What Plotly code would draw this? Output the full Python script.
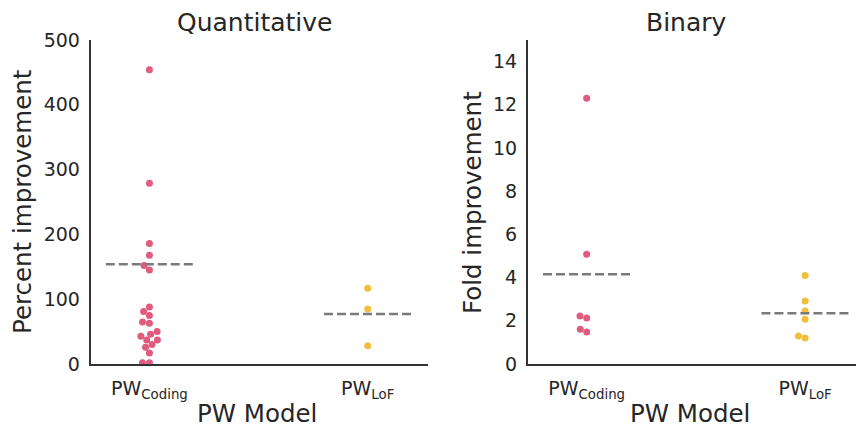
import numpy as np
import plotly.graph_objects as go

# ---------------- data ----------------
categories = ["PW<sub>Coding</sub>", "PW<sub>LoF</sub>"]
panel_titles = ["Quantitative", "Binary"]
y_titles = ["Percent improvement", "Fold improvement"]
x_title = "PW Model"

quant_coding = [454, 279, 186, 168, 152, 145, 88, 81, 75, 65, 63, 50, 46, 43, 37, 37, 30, 26, 17, 2, 2]
quant_lof = [117, 85, 28]
binary_coding = [12.3, 5.08, 2.22, 2.13, 1.61, 1.48]
binary_lof = [4.1, 2.92, 2.45, 2.07, 1.3, 1.2]

quant_means = [154, 77]
binary_means = [4.15, 2.35]

quant_yticks = [0, 100, 200, 300, 400, 500]
binary_yticks = [0, 2, 4, 6, 8, 10, 12, 14]

colors = ["#e05c7e", "#f1bf3b"]

# ---------------- layout geometry ----------------
W, H = 856, 429
mt, mb = 40, 65
plot_h = H - mt - mb
x1_dom = [90.5 / W, 427.7 / W]
x2_dom = [527.7 / W, 1.0]
x1_rng = [-0.27, 1.275]
x2_rng = [-0.27, 1.233]
y1_rng = [0, 500]
y2_rng = [0, 15]
MS = 7  # marker diameter px


def swarm_offsets(vals, y_ppu, x_ppu, d=MS):
    vals = np.asarray(vals, float)
    order = np.argsort(vals, kind="stable")
    placed = []
    offs = np.zeros(len(vals))
    for i in order:
        y = vals[i] * y_ppu
        cands = [0.0]
        for px, py in placed:
            dy = y - py
            if abs(dy) < d:
                dx = np.sqrt(d * d - dy * dy)
                cands += [px - dx, px + dx]
        cands = sorted(cands, key=lambda c: (round(abs(c), 6), c))
        chosen = cands[-1]
        for c in cands:
            if all((c - px) ** 2 + (y - py) ** 2 >= d * d - 1e-6 for px, py in placed):
                chosen = c
                break
        placed.append((chosen, y))
        offs[i] = chosen / x_ppu
    return offs


fig = go.Figure()

panels = [
    (quant_coding, quant_lof, quant_means, "x", "y", x1_dom, x1_rng, y1_rng),
    (binary_coding, binary_lof, binary_means, "x2", "y2", x2_dom, x2_rng, y2_rng),
]

for coding, lof, means, xa, ya, xdom, xrng, yrng in panels:
    x_ppu = (xdom[1] - xdom[0]) * W / (xrng[1] - xrng[0])
    y_ppu = plot_h / (yrng[1] - yrng[0])
    for ci, vals in enumerate([coding, lof]):
        offs = swarm_offsets(vals, y_ppu, x_ppu)
        fig.add_trace(go.Scatter(
            x=ci + offs, y=vals, mode="markers", xaxis=xa, yaxis=ya,
            marker=dict(color=colors[ci], size=MS, line=dict(width=0)),
            cliponaxis=False, showlegend=False, hoverinfo="y"))
        fig.add_trace(go.Scatter(
            x=[ci - 0.2, ci + 0.2], y=[means[ci], means[ci]], mode="lines",
            xaxis=xa, yaxis=ya,
            line=dict(color="#7a7a7a", width=2.5, dash="9px,4px"),
            showlegend=False, hoverinfo="skip"))

FONT = "DejaVu Sans"
TXT = "#262626"

axis_common = dict(showgrid=False, zeroline=False, showline=True, linecolor="#333333",
                   linewidth=1.5, ticks="", tickfont=dict(family=FONT, size=19, color=TXT))

fig.update_layout(
    width=W, height=H, margin=dict(l=0, r=0, t=mt, b=mb),
    plot_bgcolor="white", paper_bgcolor="white",
    xaxis=dict(domain=x1_dom, range=x1_rng, tickvals=[0, 1], ticktext=categories,
               anchor="y", ticklabelstandoff=6, **axis_common),
    yaxis=dict(domain=[0, 1], range=y1_rng, tickvals=quant_yticks, anchor="x",
               ticklabelstandoff=5, **axis_common),
    xaxis2=dict(domain=x2_dom, range=x2_rng, tickvals=[0, 1], ticktext=categories,
                anchor="y2", ticklabelstandoff=6, **axis_common),
    yaxis2=dict(domain=[0, 1], range=y2_rng, tickvals=binary_yticks, anchor="x2",
                ticklabelstandoff=5, **axis_common),
)


def pyy(px_from_top):
    # paper y coordinate for a pixel distance from the top of the page
    return 1 - (px_from_top - mt) / plot_h


def pxx(px):
    return px / W


title_cx = [254, 686]
xlabel_cx = [257, 690]
ylabel_cx = [22, 472]

anns = []
for k in range(2):
    anns.append(dict(text=panel_titles[k], x=pxx(title_cx[k]), y=pyy(23), xref="paper", yref="paper",
                     showarrow=False, xanchor="center", yanchor="middle",
                     font=dict(family=FONT, size=25, color=TXT)))
    anns.append(dict(text=x_title, x=pxx(xlabel_cx[k]), y=pyy(413), xref="paper", yref="paper",
                     showarrow=False, xanchor="center", yanchor="middle",
                     font=dict(family=FONT, size=24.5, color=TXT)))
    anns.append(dict(text=y_titles[k], x=pxx(ylabel_cx[k]), y=pyy(202), xref="paper", yref="paper",
                     showarrow=False, textangle=-90, xanchor="center", yanchor="middle",
                     font=dict(family=FONT, size=24.5, color=TXT)))
fig.update_layout(annotations=anns)

fig.write_html("out.html")
